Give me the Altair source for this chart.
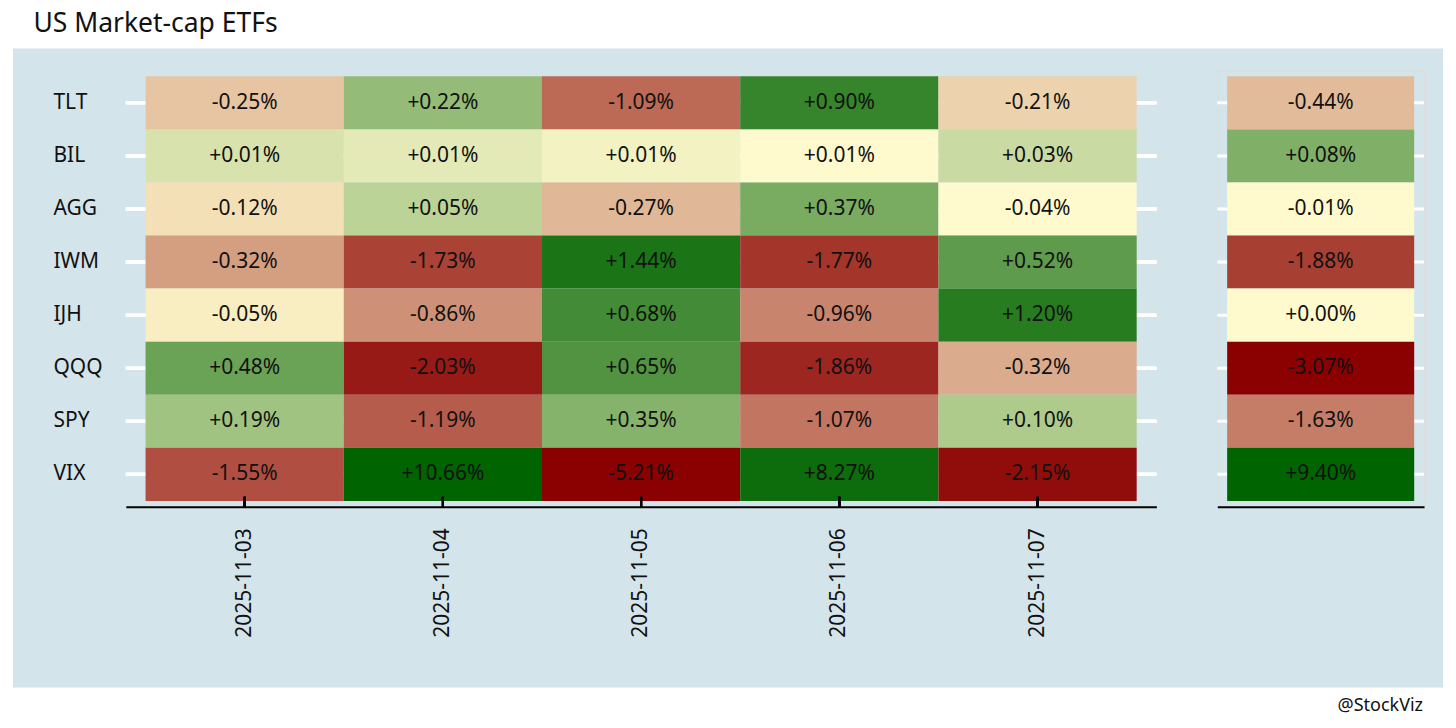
import altair as alt
import pandas as pd

etfs = ["TLT", "BIL", "AGG", "IWM", "IJH", "QQQ", "SPY", "VIX"]
dates = ["2025-11-03", "2025-11-04", "2025-11-05", "2025-11-06", "2025-11-07"]

# daily returns (%) per ETF, one entry per date
TLT = [-0.25, 0.22, -1.09, 0.90, -0.21]
BIL = [0.014, 0.012, 0.008, 0.006, 0.03]
AGG = [-0.12, 0.05, -0.27, 0.37, -0.04]
IWM = [-0.324, -1.73, 1.44, -1.77, 0.52]
IJH = [-0.05, -0.86, 0.68, -0.96, 1.20]
QQQ = [0.48, -2.03, 0.65, -1.86, -0.316]
SPY = [0.19, -1.19, 0.35, -1.07, 0.10]
VIX = [-1.55, 10.66, -5.21, 8.27, -2.15]

# cumulative over the period (%)
totals = [-0.44, 0.08, -0.01, -1.88, 0.00, -3.07, -1.63, 9.40]

title_text = "US Market-cap ETFs"
caption_text = "@StockViz"

rows = {"TLT": TLT, "BIL": BIL, "AGG": AGG, "IWM": IWM, "IJH": IJH,
        "QQQ": QQQ, "SPY": SPY, "VIX": VIX}

daily = pd.DataFrame([
    {"etf": e, "col": d, "ret": v}
    for e in etfs for d, v in zip(dates, rows[e])
])
total = pd.DataFrame({"etf": etfs, "col": ["Total"] * len(etfs), "ret": totals})

FONT = "Noto Sans"
H = 437
W1 = 1032
W2 = 207
BG = "#d4e4eb"
FS = 21

color_scale = alt.Scale(domain=[-1, 0, 1],
                        range=["#8b0000", "#fffacd", "#006400"],
                        interpolate="rgb")


def panel(df, cols, width, pad_x, first):
    base = alt.Chart(df)
    yenc = alt.Y("etf:N", sort=etfs,
                 scale=alt.Scale(paddingInner=0, paddingOuter=0.111),
                 axis=alt.Axis(title=None, labelAlign="left", labelPadding=73,
                               ticks=False, tickSize=0, domain=False,
                               labelFontSize=FS, labelColor="#111",
                               labelFont=FONT, zindex=1) if first else None)
    if first:
        xaxis = alt.Axis(title=None, labelAngle=270, labelFontSize=FS,
                         labelColor="#111", labelFont=FONT, labelPadding=21,
                         ticks=False, tickSize=0, domainColor="black",
                         domainWidth=2, zindex=1)
    else:
        xaxis = alt.Axis(title=None, labels=False, ticks=False, tickSize=0,
                         domainColor="black", domainWidth=2, zindex=1)
    xenc = alt.X("col:N", sort=cols,
                 scale=alt.Scale(paddingInner=0, paddingOuter=pad_x),
                 axis=xaxis)

    grid = base.mark_rule(color="white", strokeWidth=3).encode(
        y=yenc, x=alt.value(0), x2=alt.value(width))

    tiles = base.transform_calculate(
        sgn="datum.ret < 0 ? 'n' : 'p'"
    ).transform_window(
        r="row_number()", groupby=["sgn"], sort=[alt.SortField("ret", order="ascending")]
    ).transform_joinaggregate(
        n="count()", groupby=["sgn"]
    ).transform_calculate(
        score="datum.sgn == 'n' ? -(datum.n - datum.r) / max(datum.n - 1, 1) : (datum.r - 1) / max(datum.n - 1, 1)"
    ).mark_rect().encode(
        x=xenc, y=yenc,
        color=alt.Color("score:Q", scale=color_scale, legend=None))

    labels = base.transform_calculate(
        lab="replace(format(datum.ret, '+.2f'), '\u2212', '-') + '%'"
    ).mark_text(fontSize=FS, font=FONT, color="#111").encode(
        x=xenc, y=yenc, text="lab:N")

    layers = [grid, tiles, labels]
    if first:
        ticks = base.mark_rule(color="black", strokeWidth=2).encode(
            x=xenc, y=alt.value(H - 10), y2=alt.value(H))
        bgrect = alt.Chart(pd.DataFrame({"k": [0]})).mark_rect(color=BG).encode(
            x=alt.value(12 - 125), x2=alt.value(1444 - 125),
            y=alt.value(48 - 70), y2=alt.value(688 - 70))
        cap = alt.Chart(pd.DataFrame({"t": [caption_text]})).mark_text(
            align="right", baseline="alphabetic", fontSize=18, font=FONT,
            color="#111").encode(
            text="t:N", x=alt.value(1424 - 125), y=alt.value(711 - 70))
        layers = [bgrect, cap] + layers + [ticks]
    return alt.layer(*layers).properties(width=width, height=H)


p1 = panel(daily, dates, W1, 0.0995, True)
p2 = panel(total, ["Total"], W2, 0.0526, False)

chart = alt.hconcat(p1, p2, spacing=61, bounds="flush").properties(
    title=alt.TitleParams(title_text, anchor="start", fontSize=26.5,
                          fontWeight="normal", font=FONT, color="#111",
                          dx=21, offset=-11, baseline="alphabetic"),
    padding={"left": 4, "top": 3, "right": 4, "bottom": 5},
    background="white",
).configure_view(stroke=None).configure(font=FONT)

chart.save("out.html", embed_options={"renderer": "svg", "actions": False})
